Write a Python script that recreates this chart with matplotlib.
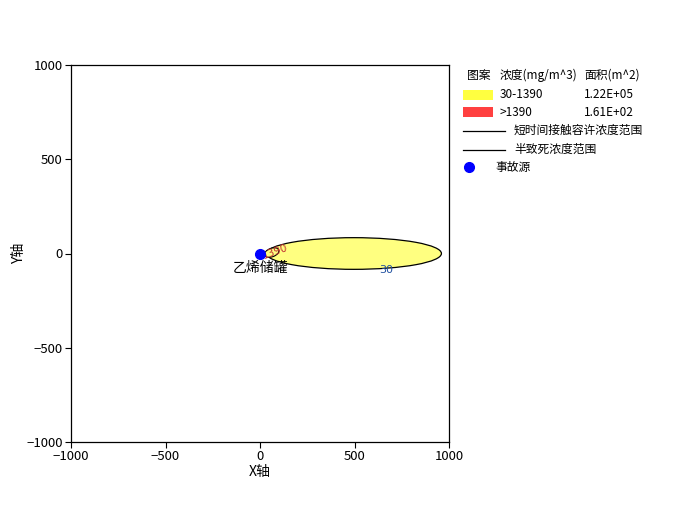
import numpy as np
import matplotlib
matplotlib.use("Agg")
import matplotlib.pyplot as plt
from matplotlib.patches import Ellipse, Rectangle
from matplotlib.lines import Line2D

plt.rcParams['font.family'] = ['Noto Sans CJK SC', 'DejaVu Sans']

# ---- data ----
x_ticks = [-1000, -500, 0, 500, 1000]
y_ticks = [-1000, -500, 0, 500, 1000]
source_xy = (0, 0)
source_name = "乙烯储罐"
# outer plume (30 mg/m^3): center x, center y, full length, full width
plume30 = (497, 0, 926, 168)
plume30_label = ("30", 670, -85)
# inner zone (1390 mg/m^3)
plume1390 = (62, 5, 80, 45)
plume1390_label = ("1390", 78, 12)
legend_header = ["图案", "浓度(mg/m^3)", "面积(m^2)"]
legend_ranges = ["30-1390", ">1390"]
legend_areas = ["1.22E+05", "1.61E+02"]
legend_colors = ["#FFFF40", "#FF4040"]
legend_lines = ["短时间接触容许浓度范围", "半致死浓度范围"]
legend_source = "事故源"

fig = plt.figure(figsize=(6.74, 5.32), dpi=100)
ax = fig.add_axes([71/674, 1-442/532, 378/674, 377/532])
ax.set_xlim(-1000, 1000)
ax.set_ylim(-1000, 1000)
ax.set_xticks(x_ticks)
ax.set_yticks(y_ticks)
ax.tick_params(direction='out', length=4, labelsize=9.5, pad=2)
for s in ax.spines.values():
    s.set_linewidth(0.9)

cx, cy, w, h = plume30
ax.add_patch(Ellipse((cx, cy), w, h, facecolor="#FFFF80", edgecolor="black", lw=0.9, zorder=2))
cx, cy, w, h = plume1390
ax.add_patch(Ellipse((cx, cy), w, h, angle=20, facecolor="#FFFF80", edgecolor="black", lw=0.8, zorder=3))
ax.text(plume30_label[1], plume30_label[2], plume30_label[0], color="#2050A0", fontsize=8,
        ha="center", va="center", zorder=4, family="DejaVu Sans")
ax.text(plume1390_label[1], plume1390_label[2], plume1390_label[0], color="#C03030", fontsize=7.5,
        ha="center", va="center", rotation=20, zorder=4, family="DejaVu Sans")

ax.plot([source_xy[0]], [source_xy[1]], 'o', color="blue", ms=7, zorder=5)
ax.text(source_xy[0], source_xy[1] - 75, source_name, fontsize=10, ha="center", va="center", zorder=6)

ax.set_xlabel("X轴", fontsize=10, labelpad=1)
ax.set_ylabel("Y轴", fontsize=10, labelpad=0)

# ---- legend drawn in figure pixels ----
def fx(px):
    return px / 674
def fy(py):
    return 1 - py / 532

fs = 8.5
hdr_x = [467, 500, 584]
for t, x in zip(legend_header, hdr_x):
    fig.text(fx(x), fy(75), t, fontsize=fs, va="center", ha="left")
rows_y = [95, 112]
for t, a, c, y in zip(legend_ranges, legend_areas, legend_colors, rows_y):
    fig.patches.append(Rectangle((fx(463), fy(y + 5)), 30/674, 10/532, transform=fig.transFigure,
                                 facecolor=c, edgecolor="none"))
    fig.text(fx(500), fy(y), t, fontsize=fs, va="center", ha="left")
    fig.text(fx(584), fy(y), a, fontsize=fs, va="center", ha="left")
lines_y = [131, 150]
for t, y in zip(legend_lines, lines_y):
    fig.lines.append(Line2D([fx(463), fx(505)], [fy(y), fy(y)], transform=fig.transFigure,
                            color="black", lw=0.9))
    fig.text(fx(514), fy(y - 1), t, fontsize=fs, va="center", ha="left")
fig.lines.append(Line2D([fx(469)], [fy(167)], transform=fig.transFigure, marker='o',
                        color="blue", ms=7, ls="none"))
fig.text(fx(495), fy(167), legend_source, fontsize=fs, va="center", ha="left")

fig.savefig("out.png", dpi=100)
